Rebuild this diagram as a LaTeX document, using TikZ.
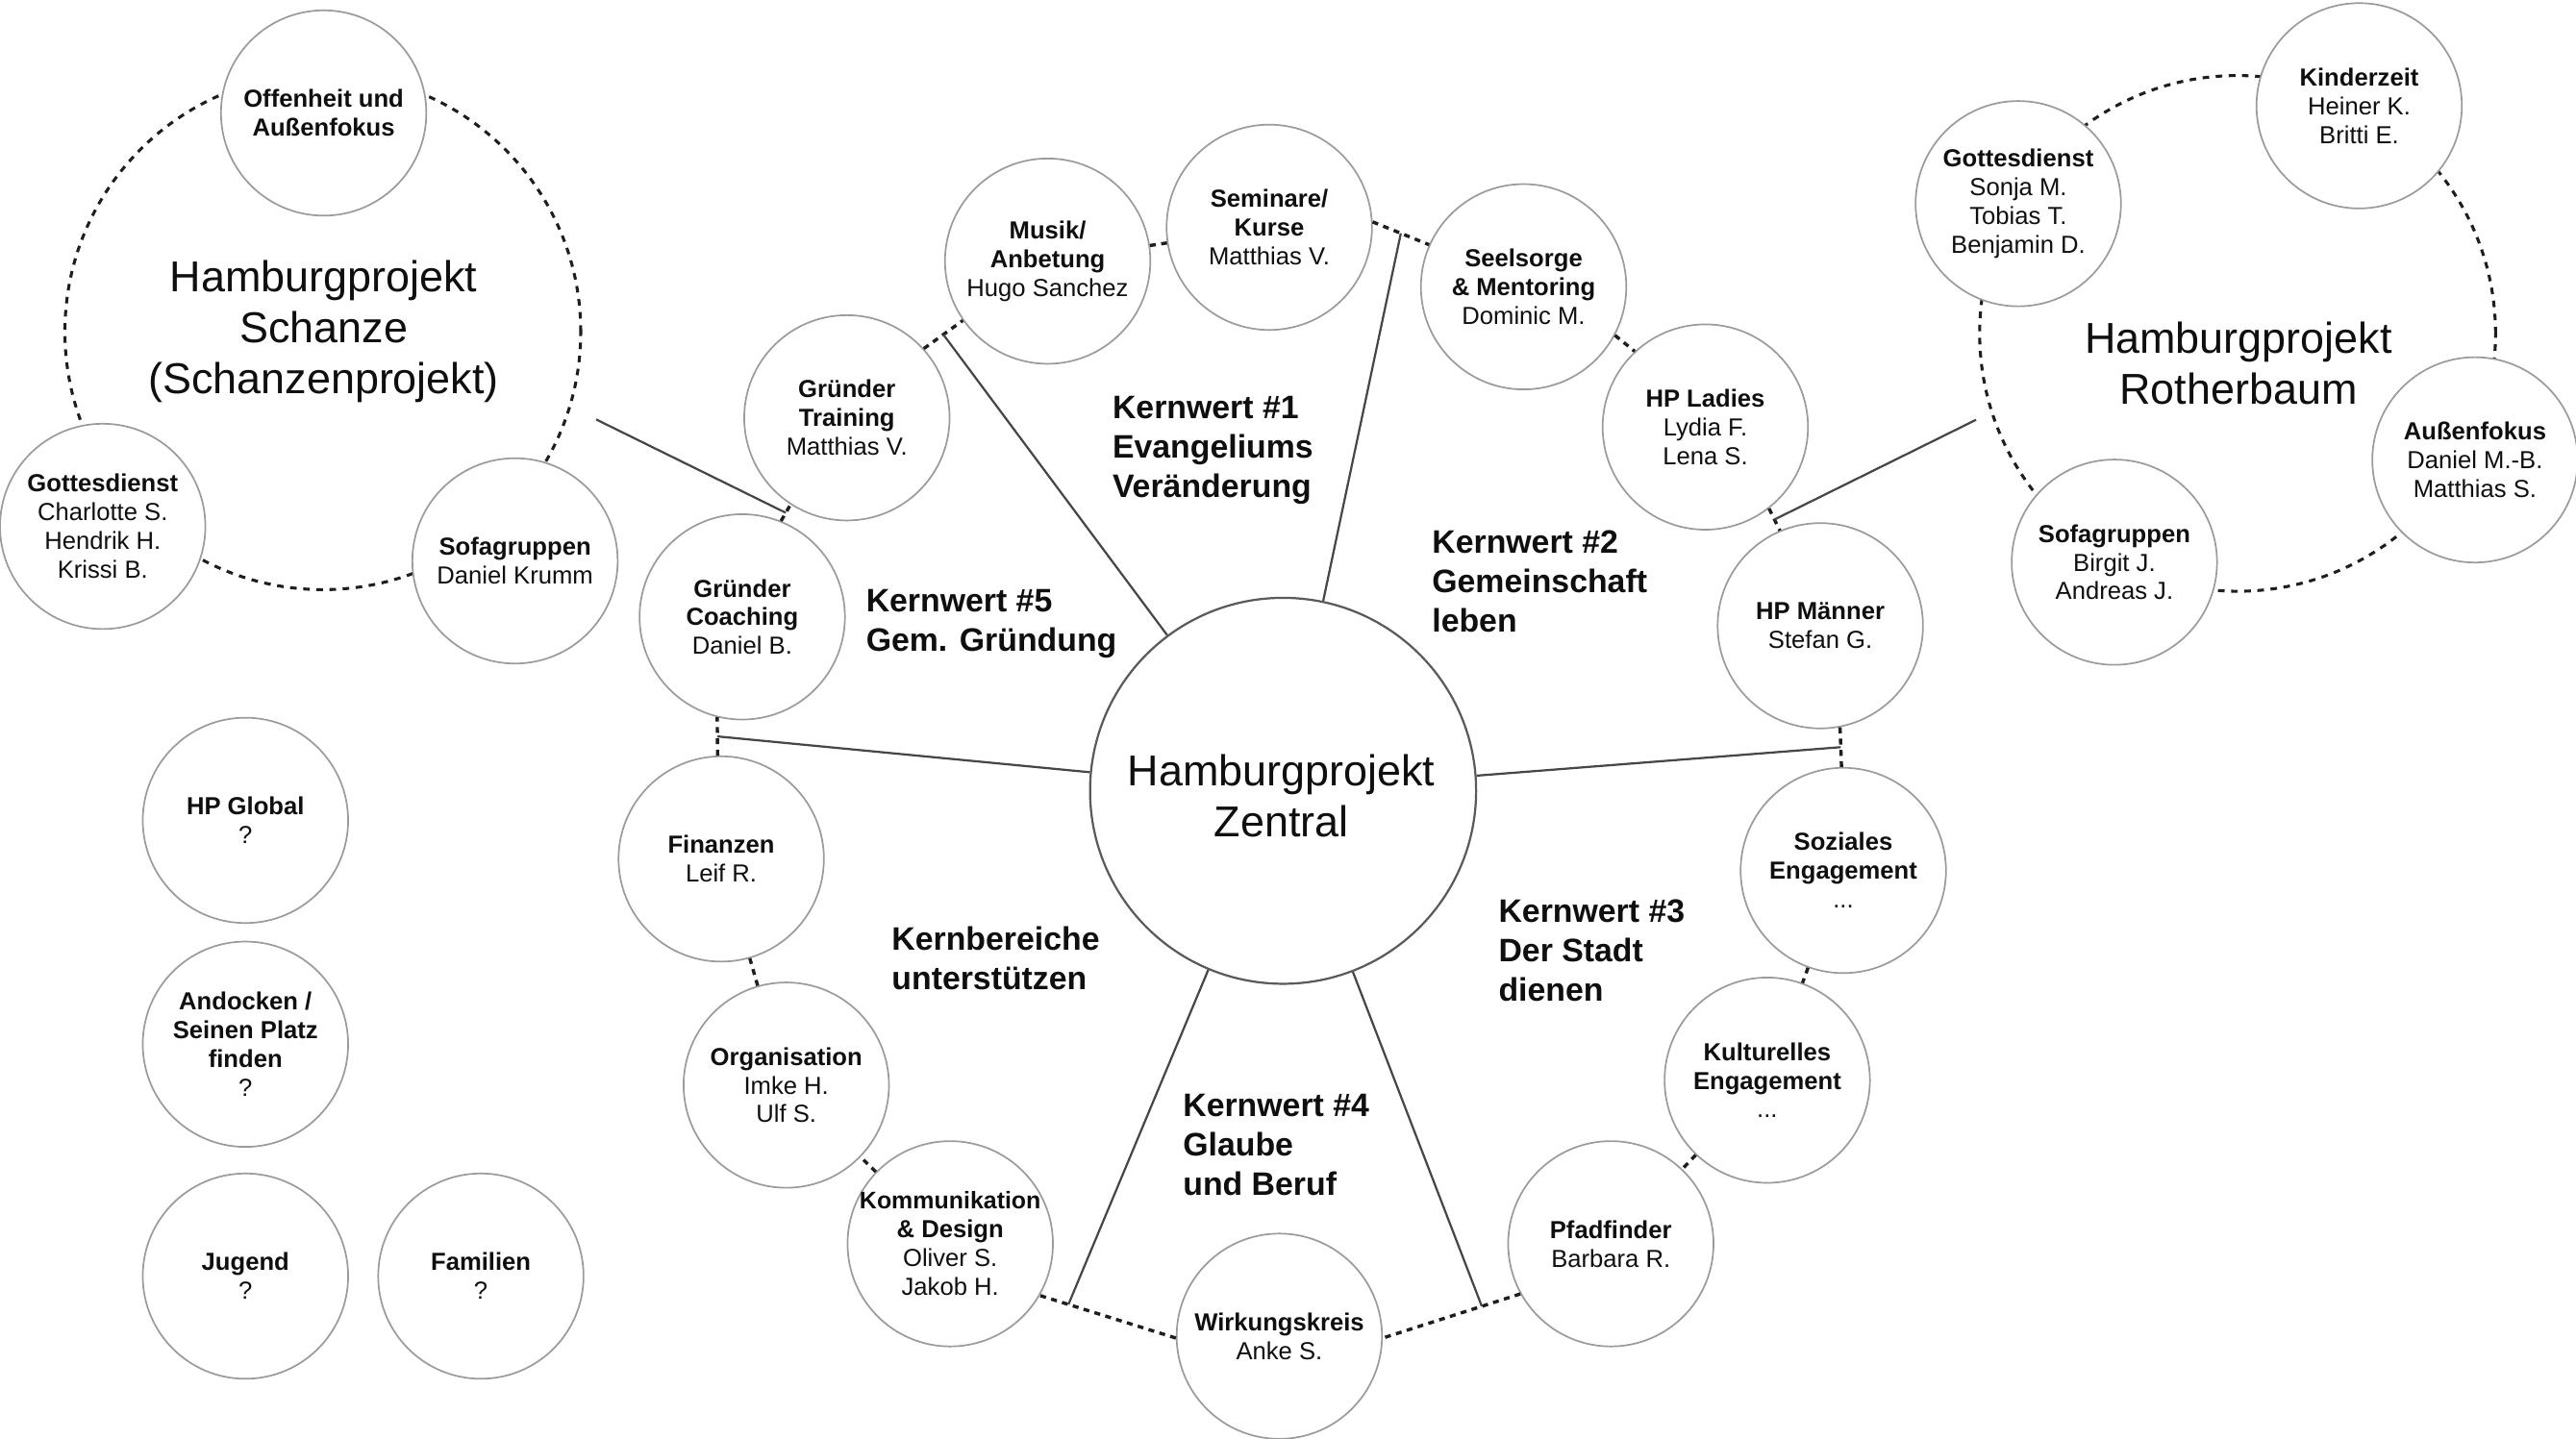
\documentclass[tikz,border=0pt]{standalone}
\usepackage{fontspec}
\setmainfont{Liberation Sans}
\usetikzlibrary{calc}
\definecolor{bubgray}{RGB}{155,155,155}
\definecolor{hubgray}{RGB}{90,90,90}
\definecolor{spokegray}{RGB}{70,70,70}
\definecolor{dashink}{RGB}{30,30,30}
\definecolor{txt}{RGB}{15,15,15}
\newcommand\hpbub[3]{\node[bub] (#1) at (#2) {};\node[bt] (#1-t) at (#1) {#3};}
\begin{document}
\begin{tikzpicture}[x=1pt,y=-1pt,
  bub/.style={circle,draw=bubgray,line width=1pt,fill=white,minimum size=125pt,inner sep=0pt},
  bt/.style={align=center,inner sep=0pt,text=txt,font=\fontsize{15}{17.5}\selectfont},
  hub/.style={circle,draw=hubgray,line width=1.3pt,fill=white,minimum size=235pt,inner sep=0pt},
  ring/.style={circle,draw=dashink,line width=1.8pt,dash pattern=on 4pt off 4pt,minimum size=314pt,inner sep=0pt},
  link/.style={draw=dashink,line width=2pt,dash pattern=on 3.6pt off 3.3pt},
  spoke/.style={draw=spokegray,line width=1.3pt},
  big/.style={align=center,inner sep=0pt,text=txt,font=\fontsize{26.3}{31}\selectfont},
  kw/.style={anchor=base west,inner sep=0pt,text=txt,font=\fontsize{19.8}{24}\selectfont\bfseries},
]
\fill[white] (0,0) rectangle (1568,876);
\useasboundingbox (0,0) rectangle (1568,876);

% dashed rings of the satellite projects
\node[ring] (schanze) at (196.5,202) {};
\node[ring] (rother) at (1362,203) {};
\node[big] (schanze-t) at (197,202) {Hamburgprojekt\\Schanze\\(Schanzenprojekt)};
\node[big] (rother-t) at (1362.5,221) {Hamburgprojekt\\Rotherbaum};

% hub
\node[hub] (central) at (781,481.5) {};
\node[big] (central-t) at (780,484.5) {Hamburgprojekt\\Zentral};

% Schanze
\hpbub{offen}{197,68.8}{\textbf{Offenheit und}\\\textbf{Außenfokus}}
\hpbub{sgott}{62.5,320.5}{\textbf{Gottesdienst}\\Charlotte S.\\Hendrik H.\\Krissi B.}
\hpbub{ssofa}{313.5,341.5}{\textbf{Sofagruppen}\\Daniel Krumm}

% Rotherbaum
\hpbub{rgott}{1228.5,124}{\textbf{Gottesdienst}\\Sonja M.\\Tobias T.\\Benjamin D.}
\hpbub{kinder}{1436,64.4}{\textbf{Kinderzeit}\\Heiner K.\\Britti E.}
\hpbub{aussen}{1506.5,280}{\textbf{Außenfokus}\\Daniel M.-B.\\Matthias S.}
\hpbub{rsofa}{1287,342.3}{\textbf{Sofagruppen}\\Birgit J.\\Andreas J.}

% ring around the hub
\hpbub{training}{515.5,254.4}{\textbf{Gründer}\\\textbf{Training}\\Matthias V.}
\hpbub{coach}{451.8,375.6}{\textbf{Gründer}\\\textbf{Coaching}\\Daniel B.}
\hpbub{musik}{637.7,159}{\textbf{Musik/}\\\textbf{Anbetung}\\Hugo Sanchez}
\hpbub{seminare}{772.6,138.4}{\textbf{Seminare/}\\\textbf{Kurse}\\Matthias V.}
\hpbub{seelsorge}{927.4,174.6}{\textbf{Seelsorge}\\\textbf{\& Mentoring}\\Dominic M.}
\hpbub{ladies}{1038,260}{\textbf{HP Ladies}\\Lydia F.\\Lena S.}
\hpbub{maenner}{1108,381}{\textbf{HP Männer}\\Stefan G.}
\hpbub{soziales}{1122,530}{\textbf{Soziales}\\\textbf{Engagement}\\...}
\hpbub{kulturelles}{1075.7,657.7}{\textbf{Kulturelles}\\\textbf{Engagement}\\...}
\hpbub{pfad}{980.5,757.3}{\textbf{Pfadfinder}\\Barbara R.}
\hpbub{wirkung}{778.7,813.6}{\textbf{Wirkungskreis}\\Anke S.}
\hpbub{kommu}{578.4,757.3}{{\fontsize{14.6}{17.5}\selectfont\textbf{Kommunikation}}\\\textbf{\& Design}\\Oliver S.\\Jakob H.}
\hpbub{orga}{478.6,660.7}{\textbf{Organisation}\\Imke H.\\Ulf S.}
\hpbub{fin}{439,523}{\textbf{Finanzen}\\Leif R.}

% loose bubbles
\hpbub{global}{149.4,499.5}{\textbf{HP Global}\\?}
\hpbub{andocken}{149.4,635.8}{\textbf{Andocken /}\\\textbf{Seinen Platz}\\\textbf{finden}\\?}
\hpbub{jugend}{149.4,777}{\textbf{Jugend}\\?}
\hpbub{familien}{292.7,777}{\textbf{Familien}\\?}

% dashed links between neighbouring bubbles
\draw[link] (training.42) -- (musik.215);
\draw[link] (musik) -- (seminare);
\draw[link] (seminare.3) -- (seelsorge.156);
\draw[link] (seelsorge.-28) -- (ladies.133);
\draw[link] (ladies.-52) -- (maenner.113);
\draw[link] (maenner.-79) -- (soziales.91);
\draw[link] (soziales) -- (kulturelles);
\draw[link] (kulturelles) -- (pfad);
\draw[link] (pfad.209) -- (wirkung.-1);
\draw[link] (wirkung.181) -- (kommu.-30);
\draw[link] (kommu) -- (orga);
\draw[link] (orga) -- (fin);
\draw[link] (fin.92) -- (coach.256);
\draw[link] (coach.68) -- (training.237);

% junctions
\coordinate (jTM) at ($(training.42)!0.5!(musik.215)$);
\coordinate (jSS) at ($(seminare.3)!0.5!(seelsorge.156)$);
\coordinate (jLM) at ($(ladies.-52)!0.5!(maenner.113)$);
\coordinate (jMS) at ($(maenner.-79)!0.5!(soziales.91)$);
\coordinate (jPW) at ($(pfad.209)!0.28!(wirkung.-1)$);
\coordinate (jWK) at ($(kommu.-30)!0.21!(wirkung.181)$);
\coordinate (jCF) at ($(fin.92)!0.5!(coach.256)$);
\coordinate (jTC) at ($(coach.68)!0.5!(training.237)$);
\coordinate (schanzeEnd) at (362.9,255.4);
\coordinate (rotherEnd) at (1202.8,255.6);

% spokes
\draw[spoke] (jTM) -- (central);
\draw[spoke] (jSS) -- (central);
\draw[spoke] (jMS) -- (central);
\draw[spoke] (jPW) -- (central);
\draw[spoke] (jWK) -- (central);
\draw[spoke] (jCF) -- (central);
\draw[spoke] (jTC) -- (schanzeEnd);
\draw[spoke] (jLM) -- (rotherEnd);

% core value labels
\node[kw] (kw1) at (677,254.8) {\begin{tabular}[t]{@{}l@{}}Kernwert \#1\\Evangeliums\\Veränderung\end{tabular}};
\node[kw] (kw2) at (871.5,337) {\begin{tabular}[t]{@{}l@{}}Kernwert \#2\\Gemeinschaft\\leben\end{tabular}};
\node[kw] (kw3) at (912,561.3) {\begin{tabular}[t]{@{}l@{}}Kernwert \#3\\Der Stadt\\dienen\end{tabular}};
\node[kw] (kw4) at (719.9,680) {\begin{tabular}[t]{@{}l@{}}Kernwert \#4\\Glaube\\und Beruf\end{tabular}};
\node[kw] (kw5) at (527,372.5) {\begin{tabular}[t]{@{}l@{}}Kernwert \#5\\Gem. Gründung\end{tabular}};
\node[kw] (kb) at (542.6,578.5) {\begin{tabular}[t]{@{}l@{}}Kernbereiche\\unterstützen\end{tabular}};
\end{tikzpicture}
\end{document}
